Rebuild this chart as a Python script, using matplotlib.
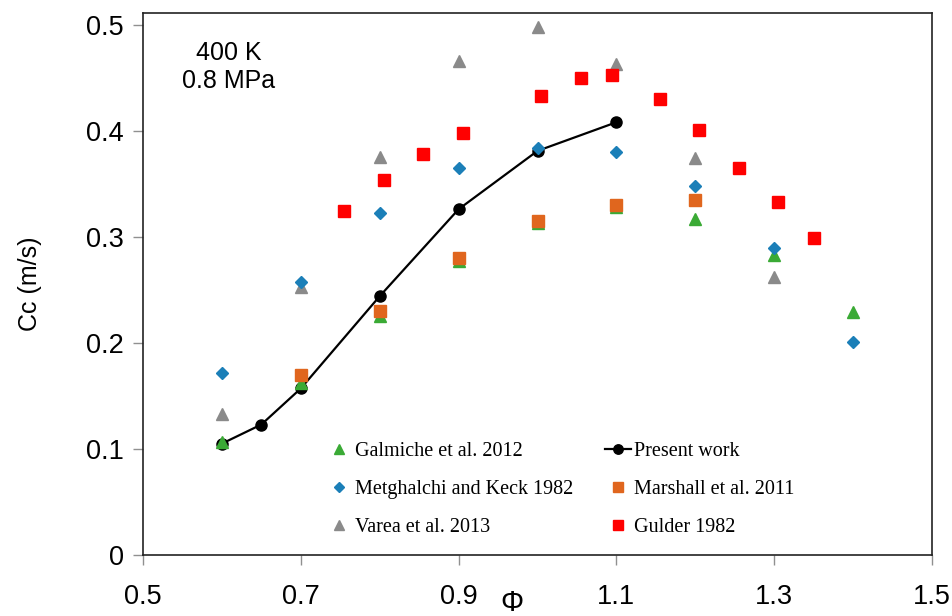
import numpy as np
import matplotlib
matplotlib.use("Agg")
import matplotlib.pyplot as plt

# equivalence ratio values for each data set
phi_present = [0.6, 0.65, 0.7, 0.8, 0.9, 1.0, 1.1]
cc_present = [0.105, 0.123, 0.157, 0.244, 0.326, 0.381, 0.408]

phi_galmiche = [0.6, 0.7, 0.8, 0.9, 1.0, 1.1, 1.2, 1.3, 1.4]
cc_galmiche = [0.107, 0.162, 0.225, 0.277, 0.313, 0.328, 0.317, 0.283, 0.229]

phi_metghalchi = [0.6, 0.7, 0.8, 0.9, 1.0, 1.1, 1.2, 1.3, 1.4]
cc_metghalchi = [0.172, 0.257, 0.322, 0.365, 0.384, 0.380, 0.348, 0.289, 0.201]

phi_marshall = [0.7, 0.8, 0.9, 1.0, 1.1, 1.2]
cc_marshall = [0.170, 0.230, 0.280, 0.315, 0.330, 0.335]

phi_varea = [0.6, 0.7, 0.8, 0.9, 1.0, 1.1, 1.2, 1.3]
cc_varea = [0.133, 0.253, 0.375, 0.466, 0.498, 0.463, 0.374, 0.262]

phi_gulder = [0.755, 0.805, 0.855, 0.905, 1.005, 1.055, 1.095, 1.155, 1.205, 1.255, 1.305, 1.35]
cc_gulder = [0.324, 0.354, 0.378, 0.398, 0.433, 0.450, 0.453, 0.430, 0.401, 0.365, 0.333, 0.299]

sans = ['Liberation Sans', 'DejaVu Sans']
serif = ['Liberation Serif', 'DejaVu Serif']

fig = plt.figure(figsize=(9.52, 6.16), dpi=100)
ax = fig.add_axes([143/952, 1 - 555/616, 789/952, 542/616])

ax.plot(phi_present, cc_present, '-o', color='black', lw=1.6, ms=8,
        label='Present work', zorder=3)
ax.plot(phi_galmiche, cc_galmiche, '^', color='#3aaa35', ms=9, ls='none',
        label='Galmiche et al. 2012', zorder=4)
ax.plot(phi_marshall, cc_marshall, 's', color='#e0661e', ms=8, ls='none',
        label='Marshall et al. 2011', zorder=5)
ax.plot(phi_metghalchi, cc_metghalchi, 'D', color='#1b7fb8', ms=6.5, ls='none',
        label='Metghalchi and Keck 1982', zorder=6)
ax.plot(phi_varea, cc_varea, '^', color='#8a8a8a', ms=9, ls='none',
        label='Varea et al. 2013', zorder=4)
ax.plot(phi_gulder, cc_gulder, 's', color='#ff0000', ms=8, ls='none',
        label='Gulder 1982', zorder=4)

ax.set_xlim(0.5, 1.5)
ax.set_ylim(0, 0.511)
ax.set_xticks(np.arange(0.5, 1.51, 0.2))
ax.set_yticks(np.arange(0, 0.51, 0.1))
ax.set_xticklabels(['0.5', '0.7', '0.9', '1.1', '1.3', '1.5'])
ax.set_yticklabels(['0', '0.1', '0.2', '0.3', '0.4', '0.5'])
ax.tick_params(axis='both', direction='out', length=7, width=1, color='#909090',
               labelsize=19.5, pad=7)
ax.tick_params(axis='x', pad=14)
for lab in ax.get_xticklabels() + ax.get_yticklabels():
    lab.set_family(sans)
for s in ax.spines.values():
    s.set_linewidth(1.2)
    s.set_color('#222222')

ax.set_ylabel('Cc (m/s)', family=sans, fontsize=18)
ax.yaxis.set_label_coords(-0.128, 0.5)
ax.set_xlabel('Φ', family=sans, fontsize=21)
ax.xaxis.set_label_coords(0.468, -0.062)

ax.text(0.109, 0.948, '400 K\n0.8 MPa', transform=ax.transAxes, ha='center',
        va='top', family=sans, fontsize=18, linespacing=1.2)

h, l = ax.get_legend_handles_labels()
order = [1, 3, 4, 0, 2, 5]
leg = ax.legend([h[i] for i in order], [l[i] for i in order], ncol=2,
                loc='upper left', bbox_to_anchor=(0.232, 0.209), frameon=False,
                prop={'family': serif, 'size': 14.5}, handlelength=1.3,
                handletextpad=0.15, columnspacing=1.55, labelspacing=0.95,
                borderpad=0, borderaxespad=0, markerscale=0.85)

fig.savefig('out.png', dpi=100)
